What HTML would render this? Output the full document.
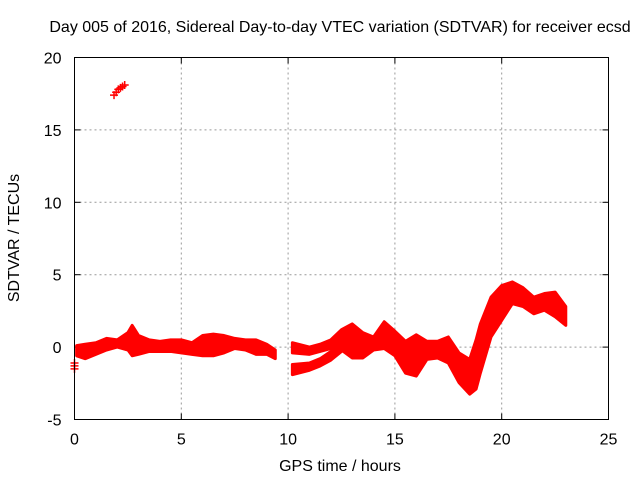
<!DOCTYPE html>
<html><head><meta charset="utf-8"><style>
body{margin:0;background:#fff}
svg{display:block;font-family:"Liberation Sans",sans-serif}
</style></head><body>
<svg id="chart" width="640" height="480">
<text x="340" y="32" text-anchor="middle" font-size="16">Day 005 of 2016, Sidereal Day-to-day VTEC variation (SDTVAR) for receiver ecsd</text>
<text x="340" y="471" text-anchor="middle" font-size="16">GPS time / hours</text>
<text x="19" y="238" text-anchor="middle" font-size="16" transform="rotate(-90 19 238)">SDTVAR / TECUs</text>
<g id="grid"></g><g id="ticks"></g><g id="marks"></g>
<rect x="74.5" y="57.5" width="534" height="362" fill="none" stroke="#000" stroke-width="1"/>
</svg>
<script>
const xTicks=[0,5,10,15,20,25];
const yTicks=[-5,0,5,10,15,20];
// band segments: time, upper value, lower value
const seg1T=[0.1,0.5,1,1.5,2,2.5,2.7,3,3.5,4,4.5,5,5.5,6,6.5,7,7.5,8,8.5,9,9.4];
const seg1Hi=[0.1,0.2,0.3,0.6,0.5,1.0,1.5,0.8,0.5,0.4,0.5,0.5,0.3,0.8,0.9,0.8,0.6,0.5,0.5,0.2,-0.2];
const seg1Lo=[-0.6,-0.8,-0.5,-0.2,0.0,-0.2,-0.6,-0.5,-0.3,-0.3,-0.3,-0.4,-0.5,-0.6,-0.6,-0.4,-0.1,-0.2,-0.5,-0.5,-0.8];
const seg2T=[10.2,11,11.5,12,12.5,13,13.5,14,14.5,15,15.5,16,16.5,17,17.5,18,18.5,18.8,19,19.5,20,20.5,21,21.5,22,22.5,23];
const seg2Hi=[0.3,0.0,0.2,0.5,1.2,1.6,1.0,0.7,1.75,1.1,0.4,0.85,0.4,0.4,0.7,-0.4,-0.85,0.5,1.6,3.45,4.25,4.5,4.1,3.45,3.7,3.8,2.8];
const seg2Lo=[-0.4,-0.5,-0.3,-0.1,-0.2,-0.75,-0.75,-0.2,-0.1,-0.6,-1.8,-2.0,-0.85,-0.75,-1.1,-2.45,-3.25,-2.9,-1.8,0.7,1.85,3.0,2.8,2.3,2.55,2.1,1.5];
const seg3T=[10.2,11,11.5,12,12.5];
const seg3Hi=[-1.2,-1.1,-0.8,-0.3,0.2];
const seg3Lo=[-1.9,-1.6,-1.3,-0.9,-0.3];
// isolated points
const ptT=[1.85,1.95,2.05,2.15,2.25,2.35,0.0,0.0,0.0];
const ptV=[17.4,17.6,17.8,17.9,18.0,18.1,-1.1,-1.3,-1.5];
const X0=74.5,X1=608.5,Y0=419.5,Y1=57.5,XMIN=0,XMAX=25,YMIN=-5,YMAX=20;
function sx(t){return X0+(t-XMIN)/(XMAX-XMIN)*(X1-X0);}
function sy(v){return Y0-(v-YMIN)/(YMAX-YMIN)*(Y0-Y1);}
const NS="http://www.w3.org/2000/svg";
function mk(tag,attrs,parent){const e=document.createElementNS(NS,tag);for(const k in attrs)e.setAttribute(k,attrs[k]);parent.appendChild(e);return e;}
const grid=document.getElementById('grid'),ticks=document.getElementById('ticks'),marks=document.getElementById('marks');
xTicks.forEach(t=>{
  const x=sx(t);
  if(t>XMIN&&t<XMAX){const g=mk('line',{x1:x,x2:x,y1:Y1,y2:Y0,stroke:'#999','stroke-dasharray':'2,3'},grid);
  
  }
  mk('line',{x1:x,x2:x,y1:Y0,y2:Y0-6,stroke:'#000'},ticks);
  mk('line',{x1:x,x2:x,y1:Y1,y2:Y1+6,stroke:'#000'},ticks);
  const l=mk('text',{x:x,y:Y0+25,'text-anchor':'middle','font-size':16},ticks);l.textContent=t;
  
  
});
yTicks.forEach(v=>{
  const y=sy(v);
  if(v>YMIN&&v<YMAX){const g=mk('line',{x1:X0,x2:X1,y1:y,y2:y,stroke:'#999','stroke-dasharray':'2,3'},grid);
  
  }
  mk('line',{x1:X0,x2:X0+6,y1:y,y2:y,stroke:'#000'},ticks);
  mk('line',{x1:X1,x2:X1-6,y1:y,y2:y,stroke:'#000'},ticks);
  const l=mk('text',{x:X0-13,y:y+6,'text-anchor':'end','font-size':16},ticks);l.textContent=v;
  
  
});
function band(T,H,L,name){
  let pts=[];
  for(let i=0;i<T.length;i++)pts.push(sx(T[i])+','+sy(H[i]));
  for(let i=T.length-1;i>=0;i--)pts.push(sx(T[i])+','+sy(L[i]));
  const p=mk('polygon',{points:pts.join(' '),fill:'#f00',stroke:'#f00','stroke-width':3,'stroke-linejoin':'round'},marks);
  
  
}
band(seg1T,seg1Hi,seg1Lo,'sdtvar-band-early');
band(seg2T,seg2Hi,seg2Lo,'sdtvar-band-late');
band(seg3T,seg3Hi,seg3Lo,'sdtvar-band-lower-branch');
ptT.forEach((t,i)=>{
  const x=sx(t),y=sy(ptV[i]);
  const p=mk('path',{d:`M${x-4},${y}H${x+4}M${x},${y-4}V${y+4}`,stroke:'#f00','stroke-width':1.5},marks);
  
  
});
</script>
</body></html>
